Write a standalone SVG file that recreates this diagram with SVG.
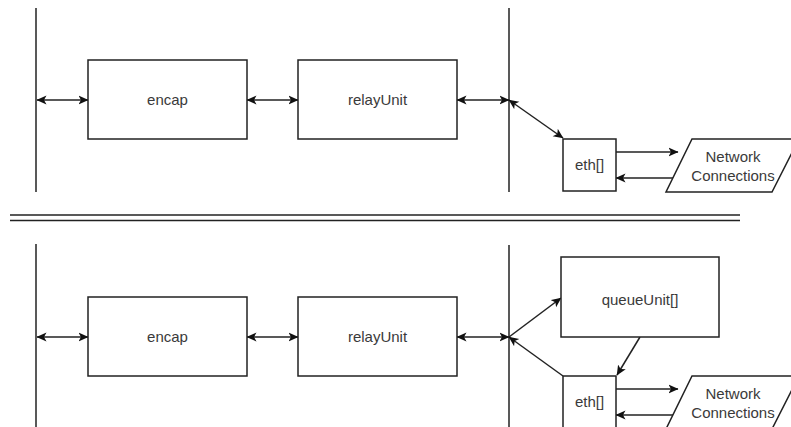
<svg xmlns="http://www.w3.org/2000/svg" width="791" height="427" viewBox="0 0 791 427">
<style>
.box{fill:#fff;stroke:#222;stroke-width:1.5}
.ln{fill:none;stroke:#222;stroke-width:1.5}
.c{fill:none;stroke:#222;stroke-width:1.5}
.t{font-family:"Liberation Sans",Arial,sans-serif;font-size:15px;fill:#3a3a3a;text-anchor:middle}
</style>
<defs>
<marker id="ah" viewBox="0 0 10 10" refX="9.5" refY="5" markerWidth="10" markerHeight="10" markerUnits="userSpaceOnUse" orient="auto-start-reverse">
<path d="M0,0.5 L10,5 L0,9.5 L2.5,5 z" fill="#111"/>
</marker>
</defs>
<rect width="791" height="427" fill="#fff"/>
<g id="separator">
<line class="ln" x1="10" y1="215" x2="740" y2="215"/>
<line class="ln" x1="10" y1="220.5" x2="740" y2="220.5"/>
</g>
<g id="buses">
<line class="ln" x1="36" y1="8" x2="36" y2="192"/>
<line class="ln" x1="509" y1="8" x2="509" y2="192"/>
<line class="ln" x1="36" y1="244" x2="36" y2="427"/>
<line class="ln" x1="509" y1="245" x2="509" y2="427"/>
</g>
<g id="connectors">
<line class="c" x1="37" y1="100" x2="88" y2="100" marker-start="url(#ah)" marker-end="url(#ah)"/>
<line class="c" x1="247" y1="100" x2="298" y2="100" marker-start="url(#ah)" marker-end="url(#ah)"/>
<line class="c" x1="457" y1="100" x2="509" y2="100" marker-start="url(#ah)" marker-end="url(#ah)"/>
<line class="c" x1="509" y1="100" x2="563" y2="138" marker-start="url(#ah)" marker-end="url(#ah)"/>
<line class="c" x1="616" y1="152" x2="678" y2="152" marker-end="url(#ah)"/>
<line class="c" x1="673" y1="178" x2="616" y2="178" marker-end="url(#ah)"/>
<line class="c" x1="37" y1="337" x2="88" y2="337" marker-start="url(#ah)" marker-end="url(#ah)"/>
<line class="c" x1="247" y1="337" x2="298" y2="337" marker-start="url(#ah)" marker-end="url(#ah)"/>
<line class="c" x1="457" y1="337" x2="509" y2="337" marker-start="url(#ah)" marker-end="url(#ah)"/>
<line class="c" x1="509" y1="337" x2="561" y2="298" marker-end="url(#ah)"/>
<line class="c" x1="563" y1="376" x2="509" y2="337" marker-end="url(#ah)"/>
<line class="c" x1="640" y1="337" x2="617" y2="375" marker-end="url(#ah)"/>
<line class="c" x1="616" y1="389" x2="678" y2="389" marker-end="url(#ah)"/>
<line class="c" x1="673" y1="415" x2="616" y2="415" marker-end="url(#ah)"/>
</g>
<g id="encap-top">
<rect class="box" x="88" y="60" width="159" height="79"/>
<text class="t" x="167.5" y="105">encap</text>
</g>
<g id="relayUnit-top">
<rect class="box" x="298" y="60" width="159" height="79"/>
<text class="t" x="377.5" y="105">relayUnit</text>
</g>
<g id="eth-top">
<rect class="box" x="563" y="139" width="53" height="52"/>
<text class="t" x="589.5" y="170">eth[]</text>
</g>
<g id="network-top">
<polygon class="box" points="692,139 799,139 772,192 666,192"/>
<text class="t" x="733" y="162">Network</text>
<text class="t" x="733" y="181">Connections</text>
</g>
<g id="encap-bottom">
<rect class="box" x="88" y="297" width="159" height="79"/>
<text class="t" x="167.5" y="342">encap</text>
</g>
<g id="relayUnit-bottom">
<rect class="box" x="298" y="297" width="159" height="79"/>
<text class="t" x="377.5" y="342">relayUnit</text>
</g>
<g id="queueUnit">
<rect class="box" x="561" y="257" width="158" height="80"/>
<text class="t" x="640" y="305">queueUnit[]</text>
</g>
<g id="eth-bottom">
<rect class="box" x="563" y="376" width="53" height="60"/>
<text class="t" x="589.5" y="407">eth[]</text>
</g>
<g id="network-bottom">
<polygon class="box" points="692,376 799,376 772,429 666,429"/>
<text class="t" x="733" y="399">Network</text>
<text class="t" x="733" y="418">Connections</text>
</g>
</svg>
